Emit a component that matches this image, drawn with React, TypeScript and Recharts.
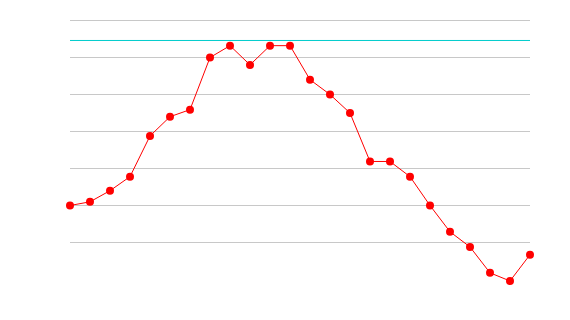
import * as React from "react";
import { LineChart, Line, XAxis, YAxis, ReferenceLine } from "recharts";

// Readings per period, one point each.
const periods = [
  "1", "2", "3", "4", "5", "6", "7", "8", "9", "10", "11", "12",
  "13", "14", "15", "16", "17", "18", "19", "20", "21", "22", "23", "24",
];
const values = [
  20, 21, 24, 27.8, 38.8, 44, 45.9, 60, 63.2, 58, 63.2, 63.2,
  54, 50, 45, 31.9, 31.9, 27.8, 20, 12.9, 8.8, 1.8, -0.4, 6.7,
];
const yTicks = [10, 20, 30, 40, 50, 60, 70];
const limit = 64.6;

const rows = periods.map((p, i) => ({ period: p, value: values[i] }));

export default function App() {
  return (
    <LineChart width={554} height={304} data={rows} margin={{ top: 12.5, right: 32, left: 62, bottom: 14 }}>
      <XAxis dataKey="period" hide />
      <YAxis hide domain={[-5, 70]} ticks={yTicks} />
      {/* grid lines only at the ticks, none along the bottom edge */}
      {yTicks.map((t) => (
        <ReferenceLine key={t} y={t} stroke="#c8c8c8" strokeWidth={1} />
      ))}
      <ReferenceLine y={limit} stroke="#00cccc" strokeWidth={1} />
      <Line
        type="linear"
        dataKey="value"
        stroke="#ff0000"
        strokeWidth={1}
        dot={{ r: 4, fill: "#ff0000", stroke: "#ff0000", strokeWidth: 0 }}
        isAnimationActive={false}
      />
    </LineChart>
  );
}
